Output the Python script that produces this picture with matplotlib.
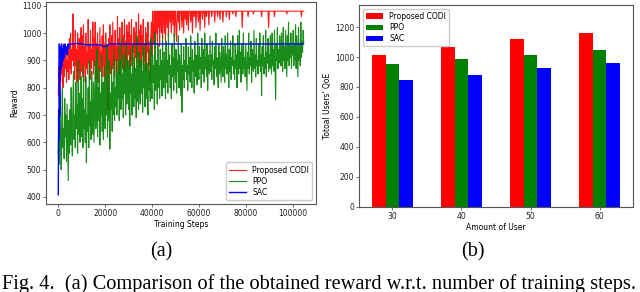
import numpy as np
import matplotlib
matplotlib.use('Agg')
import matplotlib.pyplot as plt

# ── data ────────────────────────────────────────────────────────────────
# training curves, one sample every 250 steps
steps = np.arange(0, 105000, 250)

codi_reward = [
    770, 880, 800, 950, 820, 900, 850, 930, 800, 960, 840, 910, 870, 950, 820, 900, 860, 940, 830, 980,
    870, 1000, 850, 940, 900, 1070, 880, 960, 830, 1010, 880, 940, 820, 1000, 900, 860, 980, 830, 950, 1020,
    860, 990, 840, 1030, 880, 950, 820, 1000, 870, 930, 850, 1050, 890, 960, 830, 1010, 870, 940, 900, 1040,
    850, 980, 880, 1040, 830, 960, 900, 1000, 820, 950, 870, 1020, 860, 930, 900, 990, 840, 1030, 880, 960,
    840, 1000, 870, 950, 800, 720, 980, 860, 1030, 900, 850, 990, 870, 1040, 880, 960, 840, 1010, 900, 950,
    860, 1060, 900, 980, 850, 1020, 880, 960, 910, 1040, 870, 990, 920, 1050, 860, 970, 900, 1030, 880, 1000,
    920, 1040, 870, 990, 900, 1050, 880, 960, 930, 1020, 860, 1000, 910, 1040, 890, 980, 920, 1070, 880, 1010,
    900, 1030, 870, 990, 920, 1050, 880, 960, 900, 1020, 860, 1000, 930, 1040, 880, 970, 900, 820, 990, 1040,
    920, 1080, 960, 1000, 1080, 940, 1080, 1000, 1080, 960, 1080, 1020, 1080, 950, 1080, 1080, 1000, 1080, 980, 1080,
    1080, 1000, 1080, 970, 1080, 1080, 1020, 1080, 990, 1080, 1080, 1040, 1080, 1000, 1080, 1080, 1030, 1080, 990, 1080,
    1080, 1000, 970, 1080, 1080, 1040, 1080, 1010, 1080, 1080, 1080, 1020, 1080, 1080, 1000, 1080, 1080, 1050, 1080, 1030,
    1080, 1080, 1010, 1080, 1080, 1080, 1040, 1080, 1080, 1000, 1080, 1080, 1060, 1080, 1080, 1020, 1080, 1080, 1080, 1040,
    1080, 1080, 1010, 1080, 1080, 1080, 1050, 1080, 1080, 1080, 1020, 1080, 1080, 1060, 1080, 1080, 1080, 1030, 1080, 1080,
    1080, 1080, 1060, 1080, 1080, 1080, 1080, 1040, 1080, 1080, 1080, 1080, 1060, 1080, 1080, 1080, 1050, 1080, 1080, 1080,
    1080, 1040, 1080, 1080, 1080, 1080, 1080, 1060, 1080, 1080, 1080, 1080, 1050, 1080, 1080, 1080, 1080, 1080, 1070, 1080,
    1080, 1080, 1080, 1060, 1080, 1080, 1080, 1080, 1080, 1080, 1080, 1080, 1080, 1080, 1020, 1080, 1080, 1080, 1080, 1080,
    1080, 1080, 1080, 1080, 1060, 1080, 1080, 1080, 1080, 1080, 1080, 1080, 1080, 1070, 1080, 1080, 1080, 1080, 1080, 1080,
    1080, 1080, 1080, 1080, 1080, 1080, 1080, 1060, 1080, 1080, 1080, 1080, 1080, 1080, 1080, 1080, 1080, 1080, 1080, 1020,
    1080, 1080, 1080, 1080, 1080, 1080, 1080, 1080, 1080, 1060, 1080, 1080, 1080, 1080, 1080, 1080, 1080, 1080, 1080, 1080,
    1080, 1080, 1080, 1080, 1080, 1080, 1080, 1080, 1080, 1080, 1070, 1080, 1080, 1080, 1080, 1080, 1080, 1080, 1080, 1080,
    1080, 1080, 1080, 1080, 1080, 1080, 1080, 1080, 1080, 1080, 1080, 1080, 1080, 1080, 1080, 1060, 1080, 1080, 1080, 1080,
]

ppo_reward = [
    560, 700, 520, 780, 610, 500, 690, 800, 580, 650, 540, 760, 620, 700, 530, 740, 600, 460, 680, 560,
    720, 590, 800, 640, 550, 760, 860, 610, 700, 580, 820, 650, 740, 560, 900, 630, 780, 600, 700, 840,
    620, 760, 580, 880, 650, 720, 600, 840, 525, 700, 640, 800, 580, 900, 660, 750, 610, 860, 700, 630,
    820, 600, 760, 900, 650, 720, 940, 620, 800, 680, 870, 590, 780, 700, 920, 640, 820, 610, 760, 880,
    650, 840, 700, 960, 620, 800, 680, 900, 575, 780, 720, 880, 640, 820, 700, 940, 680, 800, 730, 900,
    700, 860, 760, 950, 680, 820, 900, 720, 980, 760, 850, 690, 920, 780, 870, 700, 960, 740, 830, 900,
    720, 880, 660, 940, 780, 850, 700, 960, 800, 730, 910, 760, 870, 690, 990, 750, 880, 720, 930, 800,
    740, 900, 780, 860, 710, 950, 800, 880, 730, 970, 760, 890, 820, 700, 940, 790, 860, 750, 980, 810,
    760, 920, 820, 880, 720, 1000, 790, 900, 840, 740, 960, 800, 880, 760, 940, 830, 900, 770, 990, 850,
    800, 930, 860, 760, 970, 820, 900, 780, 1000, 850, 920, 800, 880, 760, 960, 840, 910, 790, 1000, 860,
    820, 940, 780, 900, 860, 990, 800, 920, 850, 770, 960, 710, 880, 830, 950, 800, 900, 860, 980, 830,
    880, 790, 950, 850, 910, 820, 990, 870, 800, 940, 860, 900, 780, 970, 840, 920, 880, 810, 1000, 870,
    830, 950, 870, 910, 800, 980, 880, 850, 940, 820, 1000, 870, 910, 840, 960, 790, 920, 880, 850, 990,
    860, 920, 830, 970, 880, 900, 810, 950, 870, 1000, 840, 910, 890, 800, 960, 850, 930, 870, 820, 980,
    880, 840, 950, 900, 820, 990, 870, 920, 850, 1000, 880, 800, 940, 860, 970, 830, 910, 880, 990, 850,
    900, 830, 960, 870, 920, 800, 990, 880, 850, 1010, 870, 930, 820, 960, 890, 850, 1000, 870, 910, 840,
    960, 880, 790, 930, 870, 1000, 850, 910, 880, 970, 820, 940, 890, 860, 1010, 870, 920, 840, 980, 880,
    900, 850, 960, 880, 1000, 860, 920, 770, 950, 880, 990, 850, 910, 870, 1010, 840, 930, 890, 980, 860,
    920, 870, 990, 900, 850, 1000, 880, 940, 860, 1010, 890, 755, 960, 900, 1020, 870, 940, 890, 990, 910,
    880, 1000, 910, 860, 1020, 900, 950, 870, 1010, 920, 840, 990, 900, 1040, 880, 960, 910, 1000, 870, 950,
    920, 1010, 880, 960, 900, 1030, 870, 990, 920, 840, 1020, 900, 960, 880, 1040, 910, 970, 930, 1010, 960,
]

sac_steps = [0, 150, 300, 450, 600, 750, 900, 1050, 1200, 1400,
             1600, 1800, 2000, 2300, 2600, 2900, 3200, 3500, 3800, 4100,
             4400, 4700, 5000, 6000, 8000, 10000, 12000, 14000, 16000, 18000,
             19000, 20000, 21000, 22000, 24000, 30000, 40000, 60000, 80000, 100000,
             104500]
sac_reward = [408, 720, 610, 960, 700, 900, 850, 950, 870, 960,
              880, 940, 900, 955, 910, 960, 930, 950, 920, 960,
              945, 960, 958, 960, 962, 960, 957, 957, 957, 957,
              952, 950, 955, 960, 960, 960, 960, 960, 960, 960,
              960]

# bar chart
users = ["30", "40", "50", "60"]
qoe_codi = [1017, 1068, 1124, 1162]
qoe_ppo = [956, 990, 1017, 1050]
qoe_sac = [849, 883, 927, 961]

caption = "Fig. 4.  (a) Comparison of the obtained reward w.r.t. number of training steps."

# ── figure ──────────────────────────────────────────────────────────────
FS = 5.5
SPINE = "#555555"
fig = plt.figure(figsize=(6.4, 2.92), dpi=100)

ax1 = fig.add_axes([0.0719, 0.3014, 0.4219, 0.6918])
ax1.plot(steps, codi_reward, color="red", lw=0.8, alpha=0.9, label="Proposed CODI")
ax1.plot(steps, ppo_reward, color="green", lw=0.8, alpha=0.9, label="PPO")
ax1.plot(sac_steps, sac_reward, color="blue", lw=1.0, label="SAC")
ax1.set_xlabel("Training Steps", fontsize=FS, labelpad=1.5)
ax1.set_ylabel("Reward", fontsize=FS, labelpad=2)
ax1.set_xticks([0, 20000, 40000, 60000, 80000, 100000])
ax1.set_yticks(range(400, 1101, 100))
ax1.legend(loc="lower right", fontsize=FS, framealpha=1, edgecolor="#cccccc",
           borderpad=0.4, labelspacing=0.3, handlelength=2.2)

ax2 = fig.add_axes([0.5614, 0.2921, 0.4272, 0.6918])
x = np.arange(len(users))
w = 0.2
ax2.bar(x - w, qoe_codi, w, color="red", label="Proposed CODI")
ax2.bar(x, qoe_ppo, w, color="green", label="PPO")
ax2.bar(x + w, qoe_sac, w, color="blue", label="SAC")
ax2.set_xticks(x, users)
ax2.set_ylim(0, 1350)
ax2.set_yticks(range(0, 1201, 200))
ax2.set_xlabel("Amount of User", fontsize=FS, labelpad=1.5)
ax2.set_ylabel("Totoal Users' QoE", fontsize=FS, labelpad=2)
ax2.legend(loc="upper left", fontsize=FS, framealpha=1, edgecolor="#cccccc",
           borderpad=0.4, labelspacing=0.3, handlelength=2.2)

for ax in (ax1, ax2):
    ax.tick_params(labelsize=FS, length=2, width=0.6, pad=1.5, color=SPINE, labelcolor="#222222")
    for s in ax.spines.values():
        s.set_color(SPINE)
        s.set_linewidth(0.8)

fig.text(0.2516, 0.121, "(a)", family="Liberation Serif", fontsize=14.5,
         ha="center", va="baseline")
fig.text(0.739, 0.12, "(b)", family="Liberation Serif", fontsize=14.5,
         ha="center", va="baseline")
fig.text(0.003, 0.0103, caption, family="Liberation Serif", fontsize=14.7,
         ha="left", va="baseline")

fig.savefig("out.png", dpi=100, facecolor="white")
